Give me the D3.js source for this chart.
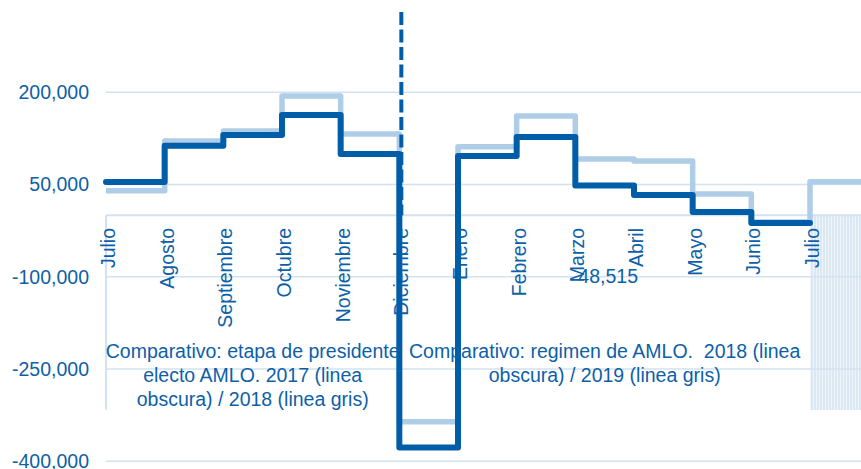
<!DOCTYPE html>
<html>
<head>
<meta charset="utf-8">
<script src="https://cdn.jsdelivr.net/npm/d3@7"></script>
<style>
  body { margin: 0; background: #fff; }
  text { font-family: "Liberation Sans", Arial, sans-serif; fill: #0d5fa9; }
</style>
</head>
<body>
<script>
// categories (month labels on the axis)
var months = ["Julio", "Agosto", "Septiembre", "Octubre", "Noviembre", "Diciembre",
              "Enero", "Febrero", "Marzo", "Abril", "Mayo", "Junio", "Julio"];

// dark series: 2017 (Jul-Dic) then 2018 (Ene-Jun)
var darkValues = [54100, 113200, 130600, 163100, 99700, -377500,
                  96400, 127300, 48515, 33000, 5400, -12500];

// light series: 2018 (Jul-Dic) then 2019 (Ene-Jul)
var lightValues = [40000, 120800, 137100, 194000, 132200, -335600,
                   111500, 161500, 91500, 88300, 34600, -10900, 54600];

// y tick labels
var yTicks = [200000, 50000, -100000, -250000, -400000];

// annotations
var noteLeft = ["Comparativo: etapa de presidente", "electo AMLO. 2017 (linea", "obscura) / 2018 (linea gris)"];
var noteRight = ["Comparativo: regimen de AMLO.  2018 (linea", "obscura) / 2019 (linea gris)"];
var dataLabel = {index: 8, text: "48,515"};

var width = 861, height = 469;
var darkColor = "#005ea8", lightColor = "#afcde6", gridColor = "#d3e2f1";
var fontSize = "19.5px";

var svg = d3.select("body").append("svg")
    .attr("width", width)
    .attr("height", height);

// scales
var x = d3.scaleLinear().domain([0, 12]).range([106, 810]);
var y = d3.scaleLinear().domain([-400000, 350000]).range([461.3, 0]);

// plain hyphen for negatives, like the original
var fmt = function(d) { return d3.format(",")(d).replace("\u2212", "-"); };

// hatch pattern for the block on the right
var defs = svg.append("defs");
var pat = defs.append("pattern")
    .attr("id", "hatch")
    .attr("patternUnits", "userSpaceOnUse")
    .attr("width", 3).attr("height", 10);
pat.append("rect").attr("width", 3).attr("height", 10).attr("fill", "#dbe7f3");
pat.append("rect").attr("width", 1).attr("height", 10).attr("fill", "#f1f6fb");

svg.append("rect")
    .attr("x", x(12))
    .attr("y", y(0))
    .attr("width", width - x(12))
    .attr("height", 410 - y(0))
    .attr("fill", "url(#hatch)");

// gridlines + y labels
svg.append("g")
  .selectAll("line")
  .data(yTicks)
  .join("line")
    .attr("x1", x(0)).attr("x2", width)
    .attr("y1", function(d) { return y(d); })
    .attr("y2", function(d) { return y(d); })
    .attr("stroke", gridColor)
    .attr("stroke-width", 1.5);

svg.append("g")
  .selectAll("text")
  .data(yTicks)
  .join("text")
    .attr("x", 89)
    .attr("y", function(d) { return y(d); })
    .attr("dy", "0.35em")
    .attr("text-anchor", "end")
    .style("font-size", fontSize)
    .text(fmt);

// zero axis and left axis line
svg.append("line")
    .attr("x1", x(0)).attr("x2", width)
    .attr("y1", y(0)).attr("y2", y(0))
    .attr("stroke", gridColor).attr("stroke-width", 2);
svg.append("line")
    .attr("x1", x(0)).attr("x2", x(0))
    .attr("y1", y(0)).attr("y2", 410)
    .attr("stroke", gridColor).attr("stroke-width", 2);

// month labels, rotated
svg.append("g")
  .selectAll("text")
  .data(months)
  .join("text")
    .attr("transform", function(d, i) { return "translate(" + (x(i) + 9) + ",228) rotate(-90)"; })
    .attr("text-anchor", "end")
    .style("font-size", fontSize)
    .text(function(d) { return d; });

// step lines
var step = d3.line()
    .x(function(d) { return d.x; })
    .y(function(d) { return y(d.v); })
    .curve(d3.curveStepAfter);

var lightPts = lightValues.map(function(v, i) { return {x: x(i), v: v}; });
lightPts.push({x: width + 10, v: lightValues[lightValues.length - 1]});
var darkPts = darkValues.map(function(v, i) { return {x: x(i), v: v}; });
darkPts.push({x: x(darkValues.length), v: darkValues[darkValues.length - 1]});

svg.append("path")
    .datum(lightPts)
    .attr("d", step)
    .attr("fill", "none")
    .attr("stroke", lightColor)
    .attr("stroke-width", 5.5)
    .attr("stroke-linejoin", "round");

// dashed divider at Diciembre
svg.append("line")
    .attr("x1", x(5) + 2).attr("x2", x(5) + 2)
    .attr("y1", 12).attr("y2", y(0))
    .attr("stroke", darkColor)
    .attr("stroke-width", 4)
    .attr("stroke-dasharray", "13,4.5");

svg.append("path")
    .datum(darkPts)
    .attr("d", step)
    .attr("fill", "none")
    .attr("stroke", darkColor)
    .attr("stroke-width", 6)
    .attr("stroke-linejoin", "round")
    .attr("stroke-linecap", "round");

// data label
svg.append("text")
    .attr("x", x(dataLabel.index) + 3)
    .attr("y", 283)
    .style("font-size", fontSize)
    .text(dataLabel.text);

// comparison notes
function note(lines, cx) {
  svg.append("g")
    .selectAll("text")
    .data(lines)
    .join("text")
      .attr("x", cx)
      .attr("y", function(d, i) { return 358 + i * 24; })
      .attr("text-anchor", "middle")
      .style("font-size", fontSize)
      .style("white-space", "pre")
      .text(function(d) { return d; });
}
note(noteLeft, (x(0) + x(5)) / 2);
note(noteRight, (x(5) + x(12)) / 2);
</script>
</body>
</html>
